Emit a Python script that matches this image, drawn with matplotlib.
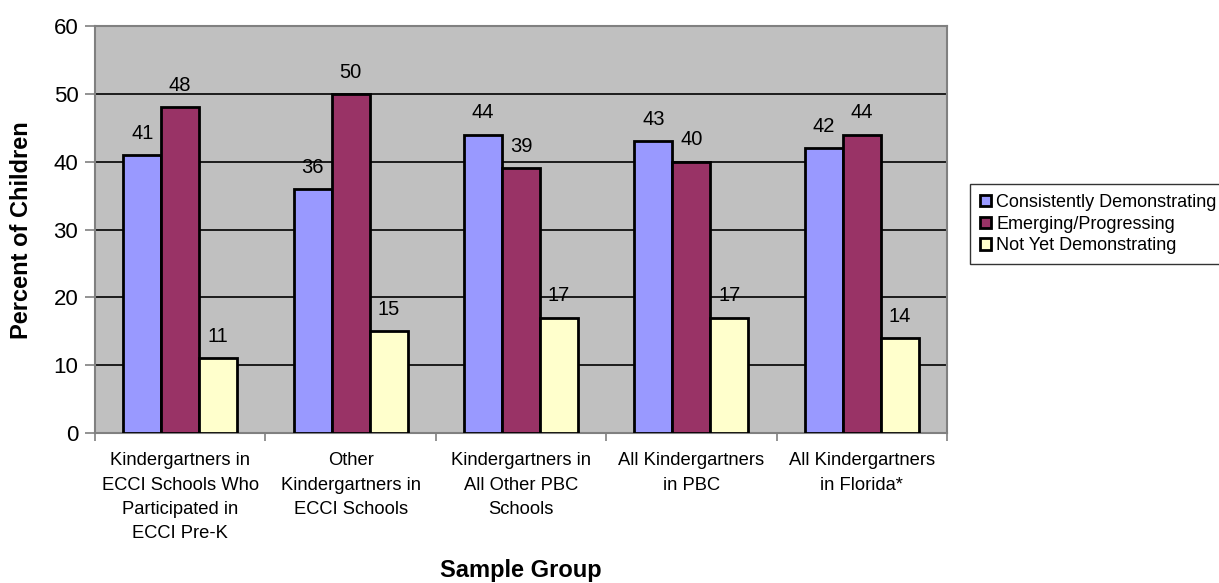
import matplotlib
matplotlib.use("Agg")
import matplotlib.pyplot as plt
import numpy as np

plt.rcParams['font.family'] = ['Liberation Sans', 'DejaVu Sans']

categories = [
    "Kindergartners in\nECCI Schools Who\nParticipated in\nECCI Pre-K",
    "Other\nKindergartners in\nECCI Schools",
    "Kindergartners in\nAll Other PBC\nSchools",
    "All Kindergartners\nin PBC",
    "All Kindergartners\nin Florida*",
]
series_names = ["Consistently Demonstrating", "Emerging/Progressing", "Not Yet Demonstrating"]
consistently = [41, 36, 44, 43, 42]
emerging = [48, 50, 39, 40, 44]
not_yet = [11, 15, 17, 17, 14]
colors = ["#9999FF", "#993366", "#FFFFCC"]
y_ticks = [0, 10, 20, 30, 40, 50, 60]

W, H = 1219, 583
fig = plt.figure(figsize=(W / 100, H / 100), dpi=100)
ax = fig.add_axes([95 / W, 1 - 433 / H, (947 - 95) / W, (433 - 26) / H])
ax.set_facecolor("#C0C0C0")

x = np.arange(len(categories))
w = 0.223
for i, (vals, name, c) in enumerate(zip([consistently, emerging, not_yet], series_names, colors)):
    pos = x + (i - 1) * w
    ax.bar(pos, vals, width=w, color=c, edgecolor="black", linewidth=2, label=name, zorder=3)
    for xp, v in zip(pos, vals):
        ax.text(xp, v + 2.4, str(v), ha="center", va="baseline", fontsize=14.5, zorder=4)

ax.set_xlim(-0.5, len(categories) - 0.5)
ax.set_ylim(0, 60)
ax.set_yticks(y_ticks)
ax.tick_params(axis="y", labelsize=16, length=7, width=1.2, color="#808080", pad=5)
ax.yaxis.grid(True, color="black", linewidth=1.2, zorder=1)
ax.set_axisbelow(True)

ax.set_xticks(x)
ax.set_xticklabels(categories, fontsize=13.2, linespacing=1.56)
ax.tick_params(axis="x", length=0, pad=14)
ax.set_xticks(np.arange(-0.5, len(categories)), minor=True)
ax.tick_params(axis="x", which="minor", length=6, width=1.2, color="#808080")

for s in ax.spines.values():
    s.set_color("#808080")
    s.set_linewidth(1.5)

fig.text(521 / W, 1 - 570 / H, "Sample Group", fontsize=17, fontweight="bold",
         ha="center", va="center")
fig.text(22 / W, 1 - 230 / H, "Percent of Children", fontsize=17, fontweight="bold",
         ha="center", va="center", rotation=90)

leg = ax.legend(loc="upper left", bbox_to_anchor=(970 / W, 1 - 184 / H),
                bbox_transform=fig.transFigure, borderaxespad=0, fontsize=13,
                frameon=True, fancybox=False, edgecolor="black", handlelength=0.6,
                handleheight=0.6, handletextpad=0.3, borderpad=0.55, labelspacing=0.26)
leg.get_frame().set_linewidth(1.0)

fig.savefig("out.png", dpi=100, facecolor="white")
